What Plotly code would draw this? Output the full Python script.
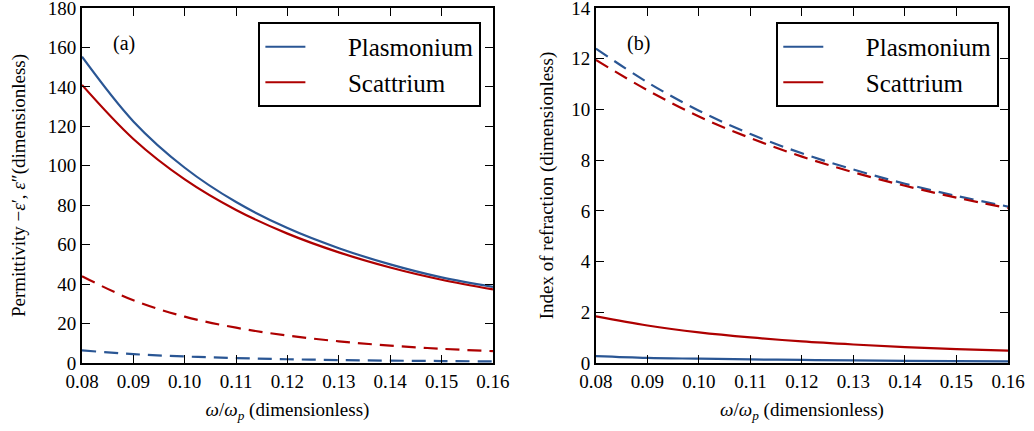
import plotly.graph_objects as go

# frequency omega/omega_p
omega = [0.08, 0.09, 0.10, 0.11, 0.12, 0.13, 0.14, 0.15, 0.16]

# Panel (a): permittivity
plas_eps_re = [155.3, 122.5, 99.0, 81.6, 68.4, 58.2, 50.0, 43.4, 38.6]   # -eps'
plas_eps_im = [6.4, 4.5, 3.3, 2.5, 1.9, 1.5, 1.2, 1.0, 0.8]               # eps''
scat_eps_re = [141.0, 113.6, 93.1, 77.6, 65.6, 56.1, 48.4, 42.2, 37.3]   # -eps'
scat_eps_im = [44.0, 31.8, 23.5, 17.9, 13.9, 11.0, 8.8, 7.2, 6.0]        # eps''

# Panel (b): index of refraction
plas_n = [0.27, 0.20, 0.17, 0.14, 0.12, 0.10, 0.085, 0.075, 0.066]
plas_k = [12.4, 11.07, 9.95, 9.03, 8.27, 7.63, 7.07, 6.59, 6.17]
scat_n = [1.84, 1.48, 1.21, 1.01, 0.85, 0.73, 0.63, 0.55, 0.49]
scat_k = [11.95, 10.76, 9.72, 8.87, 8.14, 7.52, 6.99, 6.52, 6.11]

x_ticks = [0.08, 0.09, 0.10, 0.11, 0.12, 0.13, 0.14, 0.15, 0.16]
y_ticks_a = [0, 20, 40, 60, 80, 100, 120, 140, 160, 180]
y_ticks_b = [0, 2, 4, 6, 8, 10, 12, 14]

BLUE = "#2a5694"
RED = "#ae0000"
FONT = "Liberation Serif"
DASH = "14px,8px"
LW = 2.2

fig = go.Figure()

def add(x, y, color, dash, name, xa, ya, legend, show):
    fig.add_trace(go.Scatter(
        x=x, y=y, mode="lines", name=name,
        line=dict(color=color, width=LW, dash=dash, shape="spline"),
        xaxis=xa, yaxis=ya, legend=legend, showlegend=show))

L = "\u00a0" * 6
add(omega, plas_eps_re, BLUE, "solid", L + "Plasmonium", "x", "y", "legend", True)
add(omega, scat_eps_re, RED, "solid", L + "Scattrium", "x", "y", "legend", True)
add(omega, plas_eps_im, BLUE, DASH, "Plasmonium", "x", "y", "legend", False)
add(omega, scat_eps_im, RED, DASH, "Scattrium", "x", "y", "legend", False)

add(omega, plas_n, BLUE, "solid", L + "Plasmonium", "x2", "y2", "legend2", True)
add(omega, scat_n, RED, "solid", L + "Scattrium", "x2", "y2", "legend2", True)
add(omega, plas_k, BLUE, DASH, "Plasmonium", "x2", "y2", "legend2", False)
add(omega, scat_k, RED, DASH, "Scattrium", "x2", "y2", "legend2", False)

axis_common = dict(
    showline=True, linewidth=2, linecolor="black", mirror="ticks",
    ticks="inside", ticklen=8, tickwidth=1.2, tickcolor="black",
    showgrid=False, zeroline=False, automargin=False,
    ticklabeloverflow="allow",
    tickfont=dict(family=FONT, size=19, color="black"),
)

xtitle = "<i>ω</i>/<i>ω</i><sub><i>p</i></sub> (dimensionless)"
legend_common = dict(y=0.9606, xanchor="right", yanchor="top",
                     bgcolor="white", bordercolor="black", borderwidth=2,
                     font=dict(family=FONT, size=25, color="black"),
                     itemwidth=40)

fig.update_layout(
    width=1034, height=431,
    margin=dict(l=82, r=26, t=8, b=68),
    plot_bgcolor="white", paper_bgcolor="white",
    font=dict(family=FONT, size=18, color="black"),
    xaxis=dict(domain=[0, 0.4438], range=[0.08, 0.16], tickvals=x_ticks,
               tickformat=".2f",
               title=dict(text=xtitle, font=dict(family=FONT, size=19), standoff=12),
               **axis_common),
    yaxis=dict(range=[0, 180], tickvals=y_ticks_a,
               title=dict(text="Permittivity −<i>ε</i>′, <i>ε</i>″(dimensionless)",
                          font=dict(family=FONT, size=19), standoff=17),
               **axis_common),
    xaxis2=dict(domain=[0.555, 1], range=[0.08, 0.16], tickvals=x_ticks,
                tickformat=".2f", anchor="y2",
                title=dict(text=xtitle, font=dict(family=FONT, size=19), standoff=12),
                **axis_common),
    yaxis2=dict(range=[0, 14], tickvals=y_ticks_b, anchor="x2",
                title=dict(text="Index of refraction (dimensionless)",
                           font=dict(family=FONT, size=19), standoff=12),
                **axis_common),
    legend=dict(x=0.4313, **legend_common),
    legend2=dict(x=0.9906, **legend_common),
    annotations=[
        dict(text="(a)", x=0.0882, y=162, xref="x", yref="y", showarrow=False,
             font=dict(family=FONT, size=20, color="black")),
        dict(text="(b)", x=0.0882, y=12.6, xref="x2", yref="y2", showarrow=False,
             font=dict(family=FONT, size=20, color="black")),
    ],
)

fig.write_html("out.html", config={"displayModeBar": False},
               post_script="document.body.style.margin='0';")
